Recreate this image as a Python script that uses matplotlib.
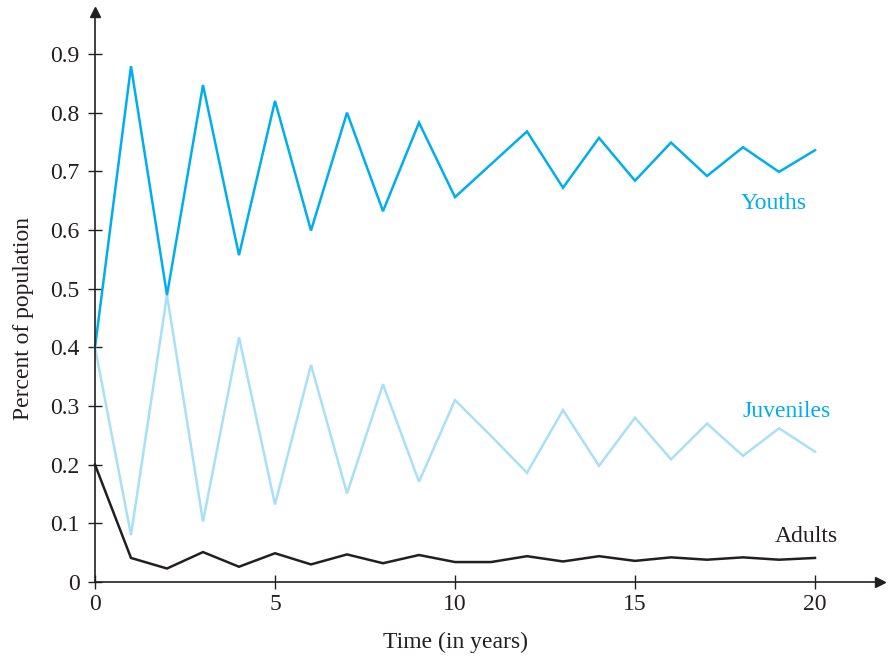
import matplotlib
matplotlib.use("Agg")
import matplotlib.pyplot as plt

years = list(range(21))
youths = [0.400, 0.879, 0.489, 0.847, 0.557, 0.820, 0.599, 0.800, 0.632, 0.783, 0.656,
          0.712, 0.768, 0.672, 0.757, 0.684, 0.749, 0.692, 0.741, 0.699, 0.736]
juveniles = [0.400, 0.080, 0.489, 0.103, 0.417, 0.132, 0.370, 0.151, 0.337, 0.171, 0.310,
             0.249, 0.186, 0.293, 0.198, 0.280, 0.209, 0.270, 0.215, 0.262, 0.222]
adults = [0.200, 0.041, 0.023, 0.051, 0.026, 0.049, 0.030, 0.047, 0.032, 0.046, 0.034,
          0.034, 0.044, 0.035, 0.044, 0.036, 0.042, 0.038, 0.042, 0.038, 0.041]
xticks = [0, 5, 10, 15, 20]
yticks = [0, 0.1, 0.2, 0.3, 0.4, 0.5, 0.6, 0.7, 0.8, 0.9]
ytick_labels = ["0", "0.1", "0.2", "0.3", "0.4", "0.5", "0.6", "0.7", "0.8", "0.9"]

plt.rcParams["font.family"] = ["Liberation Serif", "DejaVu Serif"]
FS = 17

W, H = 888, 656
fig = plt.figure(figsize=(W / 100, H / 100), dpi=100)
x0, x1 = 95, 880
y0, y1 = 582, 12
ax = fig.add_axes([x0 / W, (H - y0) / H, (x1 - x0) / W, (y0 - y1) / H])
xmax = (x1 - x0) / 36.0
ymax = (y0 - y1) / 586.7
ax.set_xlim(0, xmax)
ax.set_ylim(0, ymax)

c_y = "#00aeef"
c_j = "#a8e0f8"
c_a = "#231f20"
ax.plot(years, juveniles, color=c_j, lw=1.8, solid_joinstyle="miter", clip_on=False)
ax.plot(years, youths, color=c_y, lw=1.8, solid_joinstyle="miter", clip_on=False)
ax.plot(years, adults, color=c_a, lw=1.8, solid_joinstyle="miter", clip_on=False)

for s in ["top", "right"]:
    ax.spines[s].set_visible(False)
for s in ["left", "bottom"]:
    ax.spines[s].set_linewidth(1.2)
    ax.spines[s].set_color(c_a)

ax.plot(1, 0, marker=">", color=c_a, markersize=7, transform=ax.transAxes, clip_on=False)
ax.plot(0, 1, marker="^", color=c_a, markersize=7, transform=ax.transAxes, clip_on=False)

ax.set_xticks(xticks)
ax.set_xticklabels([str(v) for v in xticks])
ax.set_yticks(yticks)
ax.set_yticklabels(ytick_labels)
ax.tick_params(direction="inout", length=10, width=1.0, color=c_a, labelsize=FS,
               labelcolor=c_a)
ax.tick_params(axis="y", pad=6)
ax.tick_params(axis="x", pad=4)

ax.set_xlabel("Time (in years)", fontsize=FS, color=c_a)
ax.xaxis.set_label_coords((455 - x0) / (x1 - x0), -0.087)
ax.set_ylabel("Percent of population", fontsize=FS, color=c_a)
ax.yaxis.set_label_coords(-(95 - 34) / (x1 - x0), (582 - 318) / (y0 - y1))

ax.text(18.85, 0.645, "Youths", color=c_y, fontsize=FS, ha="center", va="center")
ax.text(19.2, 0.291, "Juveniles", color=c_y, fontsize=FS, ha="center", va="center")
ax.text(19.75, 0.078, "Adults", color=c_a, fontsize=FS, ha="center", va="center")

fig.savefig("out.png", dpi=100)
